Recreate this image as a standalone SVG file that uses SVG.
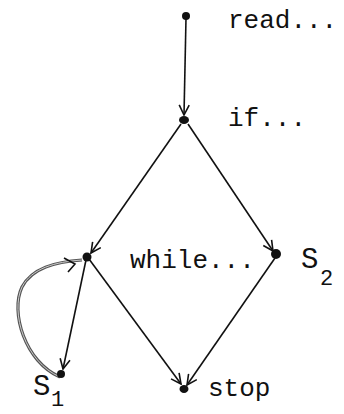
<svg xmlns="http://www.w3.org/2000/svg" width="344" height="414" viewBox="0 0 344 414">
<style>
.e{stroke:#111;stroke-width:1.6;fill:none}
.n{fill:#111}
.t{font-family:"Liberation Mono","DejaVu Sans Mono",monospace;font-size:26px;fill:#111}
.b{font-family:"Liberation Mono","DejaVu Sans Mono",monospace;font-size:29px;fill:#111}
.s{font-family:"Liberation Mono","DejaVu Sans Mono",monospace;font-size:22px;fill:#111}
</style>
<defs>
<marker id="a" viewBox="0 0 12 12" refX="11" refY="6" markerWidth="12" markerHeight="12" markerUnits="userSpaceOnUse" orient="auto">
<path d="M1,1 L11,6 L1,11" fill="none" stroke="#111" stroke-width="1.6"/>
</marker>
</defs>
<rect width="344" height="414" fill="#fff"/>
<g id="connectors">
<path class="e" d="M186,18 L184,115" marker-end="url(#a)"/>
<path class="e" d="M181,124 L91,253" marker-end="url(#a)"/>
<path class="e" d="M188,124 L273,251" marker-end="url(#a)"/>
<path class="e" d="M86,260 L63,369" marker-end="url(#a)"/>
<path class="e" d="M89,259 L181,384" marker-end="url(#a)"/>
<path class="e" d="M275,258 L187,385" marker-end="url(#a)"/>
<path d="M60,377 C25,362 10,312 22,287 C32,268 55,262 82,260" fill="none" stroke="#555" stroke-width="3.2"/>
<path d="M60,377 C25,362 10,312 22,287 C32,268 55,262 82,260" fill="none" stroke="#ccc" stroke-width="1"/>
<path class="e" d="M64,258 L75,264 L68,272" />
</g>
<g id="read"><circle class="n" cx="186" cy="16" r="4"/><text class="t" x="228" y="28">read...</text></g>
<g id="if"><ellipse class="n" cx="184" cy="120" rx="5" ry="4"/><text class="t" x="228" y="126">if...</text></g>
<g id="while"><circle class="n" cx="87" cy="257" r="4.5"/><text class="t" x="130" y="268">while...</text></g>
<g id="s2"><circle class="n" cx="276" cy="254" r="5"/><text class="b" x="301" y="268">S</text><text class="s" x="320" y="285">2</text></g>
<g id="s1"><circle class="n" cx="61" cy="374" r="4"/><text class="b" x="33" y="395">S</text><text class="s" x="51" y="406">1</text></g>
<g id="stop"><ellipse class="n" cx="184" cy="389" rx="4.5" ry="4"/><text class="t" x="208" y="396">stop</text></g>
</svg>
